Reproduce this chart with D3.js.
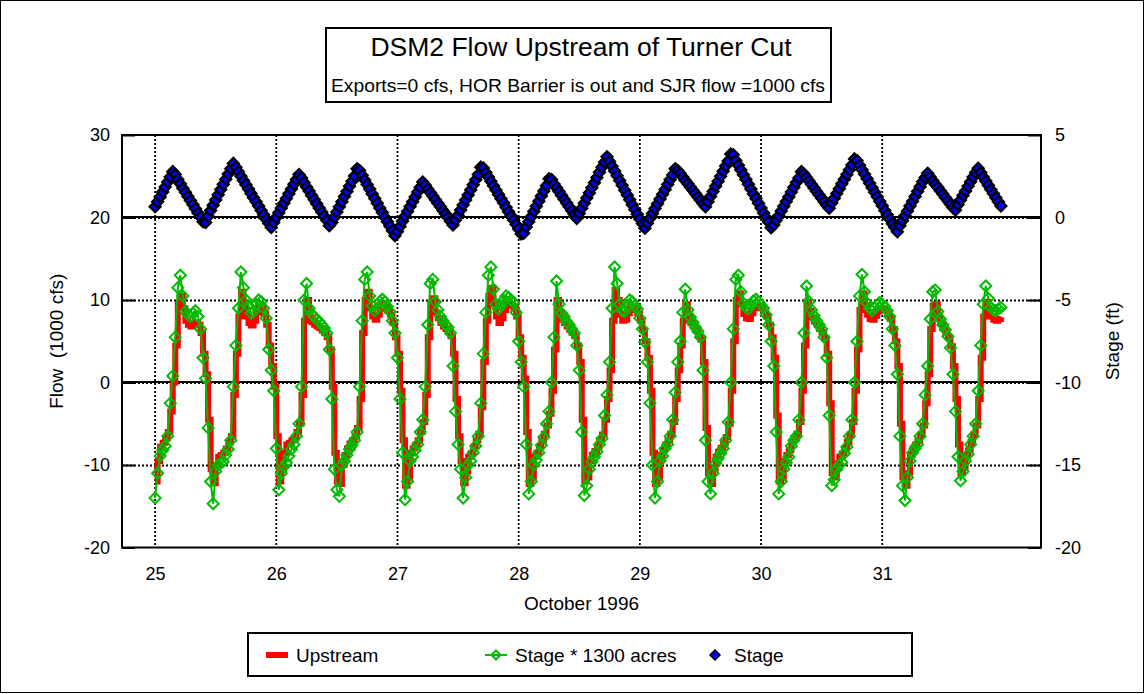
<!DOCTYPE html>
<html><head><meta charset="utf-8">
<script src="https://cdn.jsdelivr.net/npm/d3@7"></script>
<style>
body{margin:0;background:#fff}
svg text{font-family:"Liberation Sans",Arial,sans-serif;fill:#000}
</style>
</head><body>
<svg id="chart" width="1145" height="694"></svg>
<script>
// ---------------- data ----------------
const startDay = 25;          // first sample: 25 October 1996, 00:00
const stepDay = 1 / 48;       // half-hourly samples
const dayTicks = [25, 26, 27, 28, 29, 30, 31];
const flowTicks = [-20, -10, 0, 10, 20, 30];
const stageTicks = [-20, -15, -10, -5, 0, 5];
const titleText = "DSM2 Flow Upstream of Turner Cut";
const subtitleText = "Exports=0 cfs, HOR Barrier is out and SJR flow =1000 cfs";
const xTitle = "October 1996";
const yLeftTitle = "Flow  (1000 cfs)";
const yRightTitle = "Stage (ft)";
const seriesNames = ["Upstream", "Stage * 1300 acres", "Stage"];

// Upstream flow (1000 cfs)
const upstream = [
 -12.0,-9.5,-7.8,-7.3,-6.8,-6.0,-3.5,0.0,4.5,9.5,
 10.5,9.0,7.5,7.0,6.8,7.0,7.3,7.0,6.0,3.5,
 1.0,-4.5,-10.5,-12.2,-10.0,-9.0,-8.8,-8.5,-8.0,-7.3,
 -6.5,-1.5,3.5,8.0,11.0,9.5,8.0,7.2,6.9,7.5,
 8.5,9.2,9.0,8.3,7.0,4.5,2.0,-0.5,-6.5,-12.0,
 -10.5,-8.5,-7.5,-7.3,-7.0,-6.8,-6.0,-5.0,-1.5,7.5,
 10.0,8.0,7.3,7.0,6.8,6.6,6.3,6.0,5.5,4.0,
 -0.5,-8.5,-12.0,-12.3,-10.0,-8.8,-8.0,-7.4,-7.0,-6.5,
 -5.5,-2.0,6.0,10.0,11.0,9.0,8.0,7.6,8.2,9.0,
 9.5,9.2,8.7,8.2,7.2,5.5,3.5,-1.0,-7.0,-12.5,
 -11.5,-8.5,-8.0,-7.5,-7.0,-6.0,-4.8,-1.5,5.5,9.5,
 10.2,8.5,7.8,7.2,6.8,6.5,6.2,5.6,3.5,-2.0,
 -6.5,-9.5,-12.2,-10.8,-9.0,-8.6,-7.8,-7.0,-6.2,-3.0,
 2.5,7.5,10.5,11.5,9.5,8.0,7.2,7.8,8.8,9.5,
 9.5,9.3,9.0,8.0,5.5,3.0,0.5,-6.0,-12.3,-11.5,
 -9.0,-8.5,-7.8,-7.0,-6.2,-5.2,-3.8,-1.0,4.0,10.0,
 8.5,7.6,7.2,6.8,6.4,6.0,5.6,4.5,2.5,-4.5,
 -12.0,-11.5,-9.5,-8.8,-8.3,-7.8,-7.0,-6.3,-4.5,-2.0,
 1.5,7.5,11.2,10.0,8.2,7.5,7.6,8.4,9.2,9.2,
 8.8,8.4,7.5,6.3,5.0,3.0,-1.0,-8.5,-12.3,-11.5,
 -8.8,-8.2,-7.5,-7.0,-6.2,-4.8,-2.0,1.5,4.5,7.5,
 9.5,8.0,7.2,6.8,6.3,5.8,5.2,2.5,-5.5,-11.0,
 -12.3,-10.5,-9.0,-8.4,-7.9,-7.4,-6.6,-5.0,-1.0,5.0,
 10.0,10.8,9.5,8.3,7.8,7.7,8.4,9.0,9.4,9.3,
 9.0,8.6,8.0,7.0,5.5,3.0,-4.0,-12.0,-11.5,-9.5,
 -8.8,-8.2,-7.3,-6.7,-6.2,-4.8,-1.0,4.5,9.8,8.7,
 7.9,7.4,7.0,6.5,6.1,5.3,3.5,-2.5,-11.0,-11.5,
 -9.8,-9.0,-8.6,-8.0,-7.2,-6.3,-4.8,-1.0,4.0,8.8,
 10.8,9.4,8.2,7.7,7.6,8.1,8.6,9.0,9.0,8.8,
 8.3,7.7,6.5,5.0,2.0,-5.0,-11.5,-12.5,-11.0,-8.8,
 -8.0,-7.5,-7.0,-6.3,-5.2,-2.5,1.0,6.5,9.3,9.5,
 8.0,7.2,6.6,6.1,5.4,4.4,2.0,-2.0,-7.5,-11.0,
 -10.2,-9.0,-8.2,-7.2,-6.3,-5.2,-2.0,3.0,8.0,9.8,
 8.8,8.0,7.6,7.5,7.7,7.9
];

// Stage * 1300 acres (1000 cfs)
const stageFlow = [
 -14.0,-11.0,-8.9,-8.2,-7.7,-6.5,-2.5,0.8,5.5,11.5,
 13.0,10.5,8.6,8.2,8.0,8.4,8.7,8.0,6.5,3.0,
 0.5,-5.5,-12.0,-14.7,-10.8,-10.0,-9.8,-9.6,-8.8,-8.1,
 -7.0,-0.5,4.5,9.0,13.4,11.5,10.0,9.3,8.4,8.6,
 9.5,10.0,9.8,9.0,7.8,4.0,1.5,-1.0,-8.0,-13.0,
 -11.0,-10.2,-9.7,-8.9,-8.1,-7.5,-6.5,-5.0,-0.5,10.0,
 12.0,9.0,8.3,8.0,7.6,7.4,7.0,6.6,6.0,4.0,
 -2.0,-10.5,-13.0,-13.8,-10.0,-9.5,-8.8,-8.1,-7.6,-7.0,
 -6.0,-0.5,7.5,12.5,13.4,10.5,9.3,8.7,9.0,9.8,
 10.1,9.8,9.2,8.6,7.5,6.0,3.0,-2.0,-8.5,-14.2,
 -12.0,-9.5,-9.0,-8.2,-7.5,-6.0,-4.5,-0.5,7.0,12.0,
 12.5,9.8,8.8,8.0,7.5,7.0,6.7,6.0,2.0,-3.5,
 -7.5,-10.5,-14.0,-11.5,-10.0,-9.5,-8.5,-7.7,-6.5,-2.5,
 3.5,8.5,13.0,14.0,11.3,9.5,8.9,9.3,10.0,10.5,
 10.3,10.0,9.7,8.5,5.0,2.5,-0.5,-7.5,-13.5,-12.0,
 -10.0,-9.4,-8.5,-7.6,-6.6,-5.0,-3.5,0.0,5.5,12.3,
 9.5,8.4,8.0,7.4,7.0,6.5,6.0,4.5,1.5,-6.0,
 -13.7,-12.5,-10.5,-9.6,-9.0,-8.4,-7.5,-6.8,-4.0,-1.5,
 2.5,9.0,14.0,12.0,9.5,8.7,8.6,9.3,10.0,9.8,
 9.3,8.9,7.8,6.5,4.9,2.5,-2.5,-10.0,-14.0,-12.0,
 -9.5,-8.9,-8.0,-7.5,-6.5,-4.5,-1.2,2.5,5.0,8.5,
 11.3,8.8,7.9,7.3,6.7,6.2,5.5,1.5,-7.0,-12.0,
 -13.5,-11.0,-9.8,-9.2,-8.6,-8.0,-7.0,-4.8,0.0,6.5,
 12.5,13.0,11.0,9.6,9.1,8.9,9.4,9.9,10.1,9.8,
 9.4,9.0,8.2,7.0,5.0,2.0,-6.0,-13.5,-12.0,-10.5,
 -9.7,-9.0,-7.7,-7.0,-6.5,-4.5,0.0,6.0,11.7,9.8,
 8.8,8.1,7.5,7.0,6.5,5.5,3.0,-4.0,-12.5,-11.8,
 -10.5,-10.0,-9.7,-8.6,-7.8,-6.5,-4.5,0.0,5.0,10.5,
 13.1,11.0,9.6,9.0,8.7,9.0,9.4,9.7,9.5,9.2,
 8.7,8.0,6.5,4.5,1.0,-6.5,-12.5,-14.3,-11.5,-9.5,
 -8.5,-8.0,-7.5,-6.5,-5.0,-1.5,2.0,7.7,11.0,11.2,
 8.6,7.7,7.0,6.4,5.6,4.2,1.0,-3.5,-9.0,-11.9,
 -10.8,-9.5,-8.7,-7.5,-6.5,-5.0,-1.0,4.5,9.5,11.7,
 10.2,9.1,8.8,8.7,8.9,9.1
];

// Stage (ft)
const stage = [
 0.65,0.95,1.25,1.55,1.85,2.15,2.45,2.78,2.6,2.3,
 2.04,1.78,1.53,1.28,1.03,0.78,0.53,0.28,0.03,-0.25,
 -0.3,0.07,0.43,0.75,1.06,1.38,1.70,2.01,2.32,2.64,
 2.96,3.28,3.05,2.78,2.5,2.24,1.98,1.72,1.46,1.2,
 0.95,0.69,0.43,0.17,-0.1,-0.35,-0.6,-0.3,0.0,0.29,
 0.58,0.87,1.15,1.44,1.73,2.02,2.31,2.6,2.4,2.12,
 1.85,1.6,1.34,1.09,0.84,0.58,0.33,0.08,-0.17,-0.5,
 -0.3,0.02,0.33,0.65,0.96,1.27,1.58,1.89,2.2,2.52,
 2.95,2.85,2.56,2.28,2.0,1.72,1.43,1.15,0.87,0.58,
 0.3,0.02,-0.25,-0.52,-0.8,-1.1,-0.85,-0.54,-0.23,0.07,
 0.36,0.66,0.95,1.25,1.54,1.83,2.15,1.95,1.73,1.52,
 1.3,1.08,0.87,0.65,0.43,0.22,0.0,-0.22,-0.45,-0.15,
 0.14,0.45,0.76,1.06,1.36,1.67,1.98,2.29,2.6,3.05,
 3.0,2.72,2.45,2.19,1.93,1.66,1.4,1.14,0.89,0.62,
 0.35,0.1,-0.16,-0.42,-0.69,-1.0,-0.95,-0.57,-0.26,0.05,
 0.37,0.68,0.99,1.3,1.61,1.93,2.35,2.3,2.03,1.8,
 1.57,1.34,1.11,0.88,0.65,0.42,0.19,-0.05,0.25,0.56,
 0.87,1.18,1.49,1.8,2.11,2.42,2.74,3.05,3.35,3.68,
 3.4,3.11,2.82,2.53,2.24,1.95,1.65,1.36,1.07,0.78,
 0.49,0.2,-0.09,-0.37,-0.65,-0.35,-0.05,0.25,0.54,0.83,
 1.12,1.41,1.7,2.0,2.29,2.58,2.95,2.85,2.66,2.45,
 2.25,2.05,1.85,1.65,1.45,1.25,1.04,0.85,0.65,0.96,
 1.27,1.58,1.9,2.2,2.5,2.81,3.12,3.42,3.85,3.8,
 3.45,3.16,2.88,2.59,2.3,2.01,1.72,1.43,1.15,0.86,
 0.57,0.28,0.0,-0.28,-0.62,-0.45,-0.17,0.11,0.4,0.68,
 0.97,1.25,1.54,1.83,2.12,2.4,2.78,2.63,2.43,2.21,
 2.0,1.79,1.58,1.37,1.17,0.95,0.74,0.56,0.88,1.17,
 1.46,1.75,2.04,2.32,2.6,2.89,3.18,3.55,3.45,3.17,
 2.89,2.62,2.35,2.07,1.8,1.53,1.26,0.98,0.71,0.43,
 0.16,-0.11,-0.38,-0.6,-0.86,-0.5,-0.2,0.1,0.39,0.69,
 0.98,1.28,1.58,1.87,2.17,2.42,2.68,2.45,2.22,2.02,
 1.83,1.62,1.42,1.21,1.01,0.81,0.61,0.45,0.78,1.06,
 1.34,1.61,1.89,2.17,2.45,2.72,2.98,2.72,2.46,2.21,
 1.96,1.7,1.45,1.2,0.95,0.7
];

// ---------------- drawing ----------------
const svg = d3.select("#chart");
const W = 1145, H = 694;
const P = {l: 122, r: 1041, t: 135, b: 547.5};
const RED = "#ff0000", GREEN = "#00bb00", BLUE = "#0000ff";

svg.append("rect").attr("x", 0).attr("y", 0).attr("width", W).attr("height", H).attr("fill", "#fff");
svg.append("rect").attr("x", 0.5).attr("y", 0.5).attr("width", W - 2).attr("height", H - 2)
  .attr("fill", "none").attr("stroke", "#000").attr("stroke-width", 1);

const tOf = i => startDay + i * stepDay;
const x = d3.scaleLinear().domain([24.727, 32.31]).range([P.l, P.r]);
const yF = d3.scaleLinear().domain([-20, 30]).range([P.b, P.t]);
const yS = d3.scaleLinear().domain([-20, 5]).range([P.b, P.t]);

// gridlines
const grid = svg.append("g");
grid.selectAll("line.v").data(dayTicks).join("line")
  .attr("x1", d => x(d)).attr("x2", d => x(d)).attr("y1", P.t).attr("y2", P.b)
  .attr("stroke", "#000").attr("stroke-width", 1.8).attr("stroke-dasharray", "2,2");
grid.selectAll("line.h").data(flowTicks.filter(d => d > -20 && d < 30)).join("line")
  .attr("x1", P.l).attr("x2", P.r).attr("y1", d => yF(d) + 0.5).attr("y2", d => yF(d) + 0.5)
  .attr("stroke", "#000").attr("stroke-width", 1.8).attr("stroke-dasharray", "2,2");
// solid zero lines (primary flow 0, secondary stage 0)
grid.append("line").attr("x1", P.l).attr("x2", P.r).attr("y1", yF(0) - 0.5).attr("y2", yF(0) - 0.5)
  .attr("stroke", "#000").attr("stroke-width", 2.2);
grid.append("line").attr("x1", P.l).attr("x2", P.r).attr("y1", yS(0) - 0.5).attr("y2", yS(0) - 0.5)
  .attr("stroke", "#000").attr("stroke-width", 2.2);

// axes
const fmt = d => String(d);
const axL = svg.append("g").attr("transform", `translate(${P.l},0)`)
  .call(d3.axisLeft(yF).tickValues(flowTicks).tickSize(-13).tickSizeOuter(0).tickPadding(12).tickFormat(fmt));
const axR = svg.append("g").attr("transform", `translate(${P.r},0)`)
  .call(d3.axisRight(yS).tickValues(stageTicks).tickSize(-13).tickSizeOuter(0).tickPadding(14).tickFormat(fmt));
const axB = svg.append("g").attr("transform", `translate(0,${P.b})`)
  .call(d3.axisBottom(x).tickValues(dayTicks).tickSize(0).tickPadding(20).tickFormat(fmt));
[axL, axR, axB].forEach(g => {
  g.attr("font-size", null).attr("font-family", null);
  g.select(".domain").remove();
  g.selectAll(".tick line").attr("stroke", "#000").attr("stroke-width", 2);
  g.selectAll("text").style("font-size", "18px");
});

// series
const upLine = d3.line().x((d, i) => x(tOf(i))).y(d => yF(d)).curve(d3.curveStepAfter);
svg.append("path").datum(upstream).attr("d", upLine)
  .attr("fill", "none").attr("stroke", RED).attr("stroke-width", 6);

const gLine = d3.line().x((d, i) => x(tOf(i))).y(d => yF(d));
svg.append("path").datum(stageFlow).attr("d", gLine)
  .attr("fill", "none").attr("stroke", GREEN).attr("stroke-width", 2);
const dia = s => `M0,${-s}L${s},0L0,${s}L${-s},0Z`;
svg.append("g").selectAll("path").data(stageFlow).join("path")
  .attr("transform", (d, i) => `translate(${x(tOf(i))},${yF(d)})`)
  .attr("d", dia(5.5)).attr("fill", "none").attr("stroke", GREEN).attr("stroke-width", 2);

svg.append("g").selectAll("path").data(stage).join("path")
  .attr("transform", (d, i) => `translate(${x(tOf(i))},${yS(d)})`)
  .attr("d", dia(5.5)).attr("fill", BLUE).attr("stroke", "#000").attr("stroke-width", 2.2);

// plot frame
svg.append("rect").attr("x", P.l).attr("y", P.t).attr("width", P.r - P.l).attr("height", P.b - P.t)
  .attr("fill", "none").attr("stroke", "#000").attr("stroke-width", 2);

// axis titles
svg.append("text").attr("x", (P.l + P.r) / 2).attr("y", 610).attr("text-anchor", "middle")
  .style("font-size", "19px").text(xTitle);
svg.append("text").attr("transform", `translate(63,${(P.t + P.b) / 2}) rotate(-90)`)
  .attr("text-anchor", "middle").style("font-size", "19px").style("white-space", "pre").text(yLeftTitle);
svg.append("text").attr("transform", `translate(1119,${(P.t + P.b) / 2}) rotate(-90)`)
  .attr("text-anchor", "middle").style("font-size", "19px").text(yRightTitle);

// title box
svg.append("rect").attr("x", 326).attr("y", 28).attr("width", 505).attr("height", 74)
  .attr("fill", "#fff").attr("stroke", "#000").attr("stroke-width", 2);
svg.append("text").attr("x", 581).attr("y", 56).attr("text-anchor", "middle")
  .style("font-size", "26.5px").text(titleText);
svg.append("text").attr("x", 578).attr("y", 92).attr("text-anchor", "middle")
  .style("font-size", "18.5px").attr("textLength", 494).attr("lengthAdjust", "spacingAndGlyphs").text(subtitleText);

// legend
const lg = svg.append("g");
lg.append("rect").attr("x", 248).attr("y", 633).attr("width", 664).attr("height", 43)
  .attr("fill", "#fff").attr("stroke", "#000").attr("stroke-width", 2);
const ly = 655;
lg.append("rect").attr("x", 266).attr("y", ly - 3).attr("width", 22).attr("height", 6).attr("fill", RED);
lg.append("text").attr("x", 296).attr("y", ly + 7).style("font-size", "19px").text(seriesNames[0]);
lg.append("line").attr("x1", 485).attr("x2", 507).attr("y1", ly).attr("y2", ly)
  .attr("stroke", GREEN).attr("stroke-width", 2);
lg.append("path").attr("transform", `translate(496,${ly})`).attr("d", dia(4.5))
  .attr("fill", "none").attr("stroke", GREEN).attr("stroke-width", 2);
lg.append("text").attr("x", 515).attr("y", ly + 7).style("font-size", "19px").text(seriesNames[1]);
lg.append("path").attr("transform", `translate(715,${ly})`).attr("d", dia(5))
  .attr("fill", BLUE).attr("stroke", "#000").attr("stroke-width", 1.5);
lg.append("text").attr("x", 734).attr("y", ly + 7).style("font-size", "19px").text(seriesNames[2]);
</script>
</body></html>
